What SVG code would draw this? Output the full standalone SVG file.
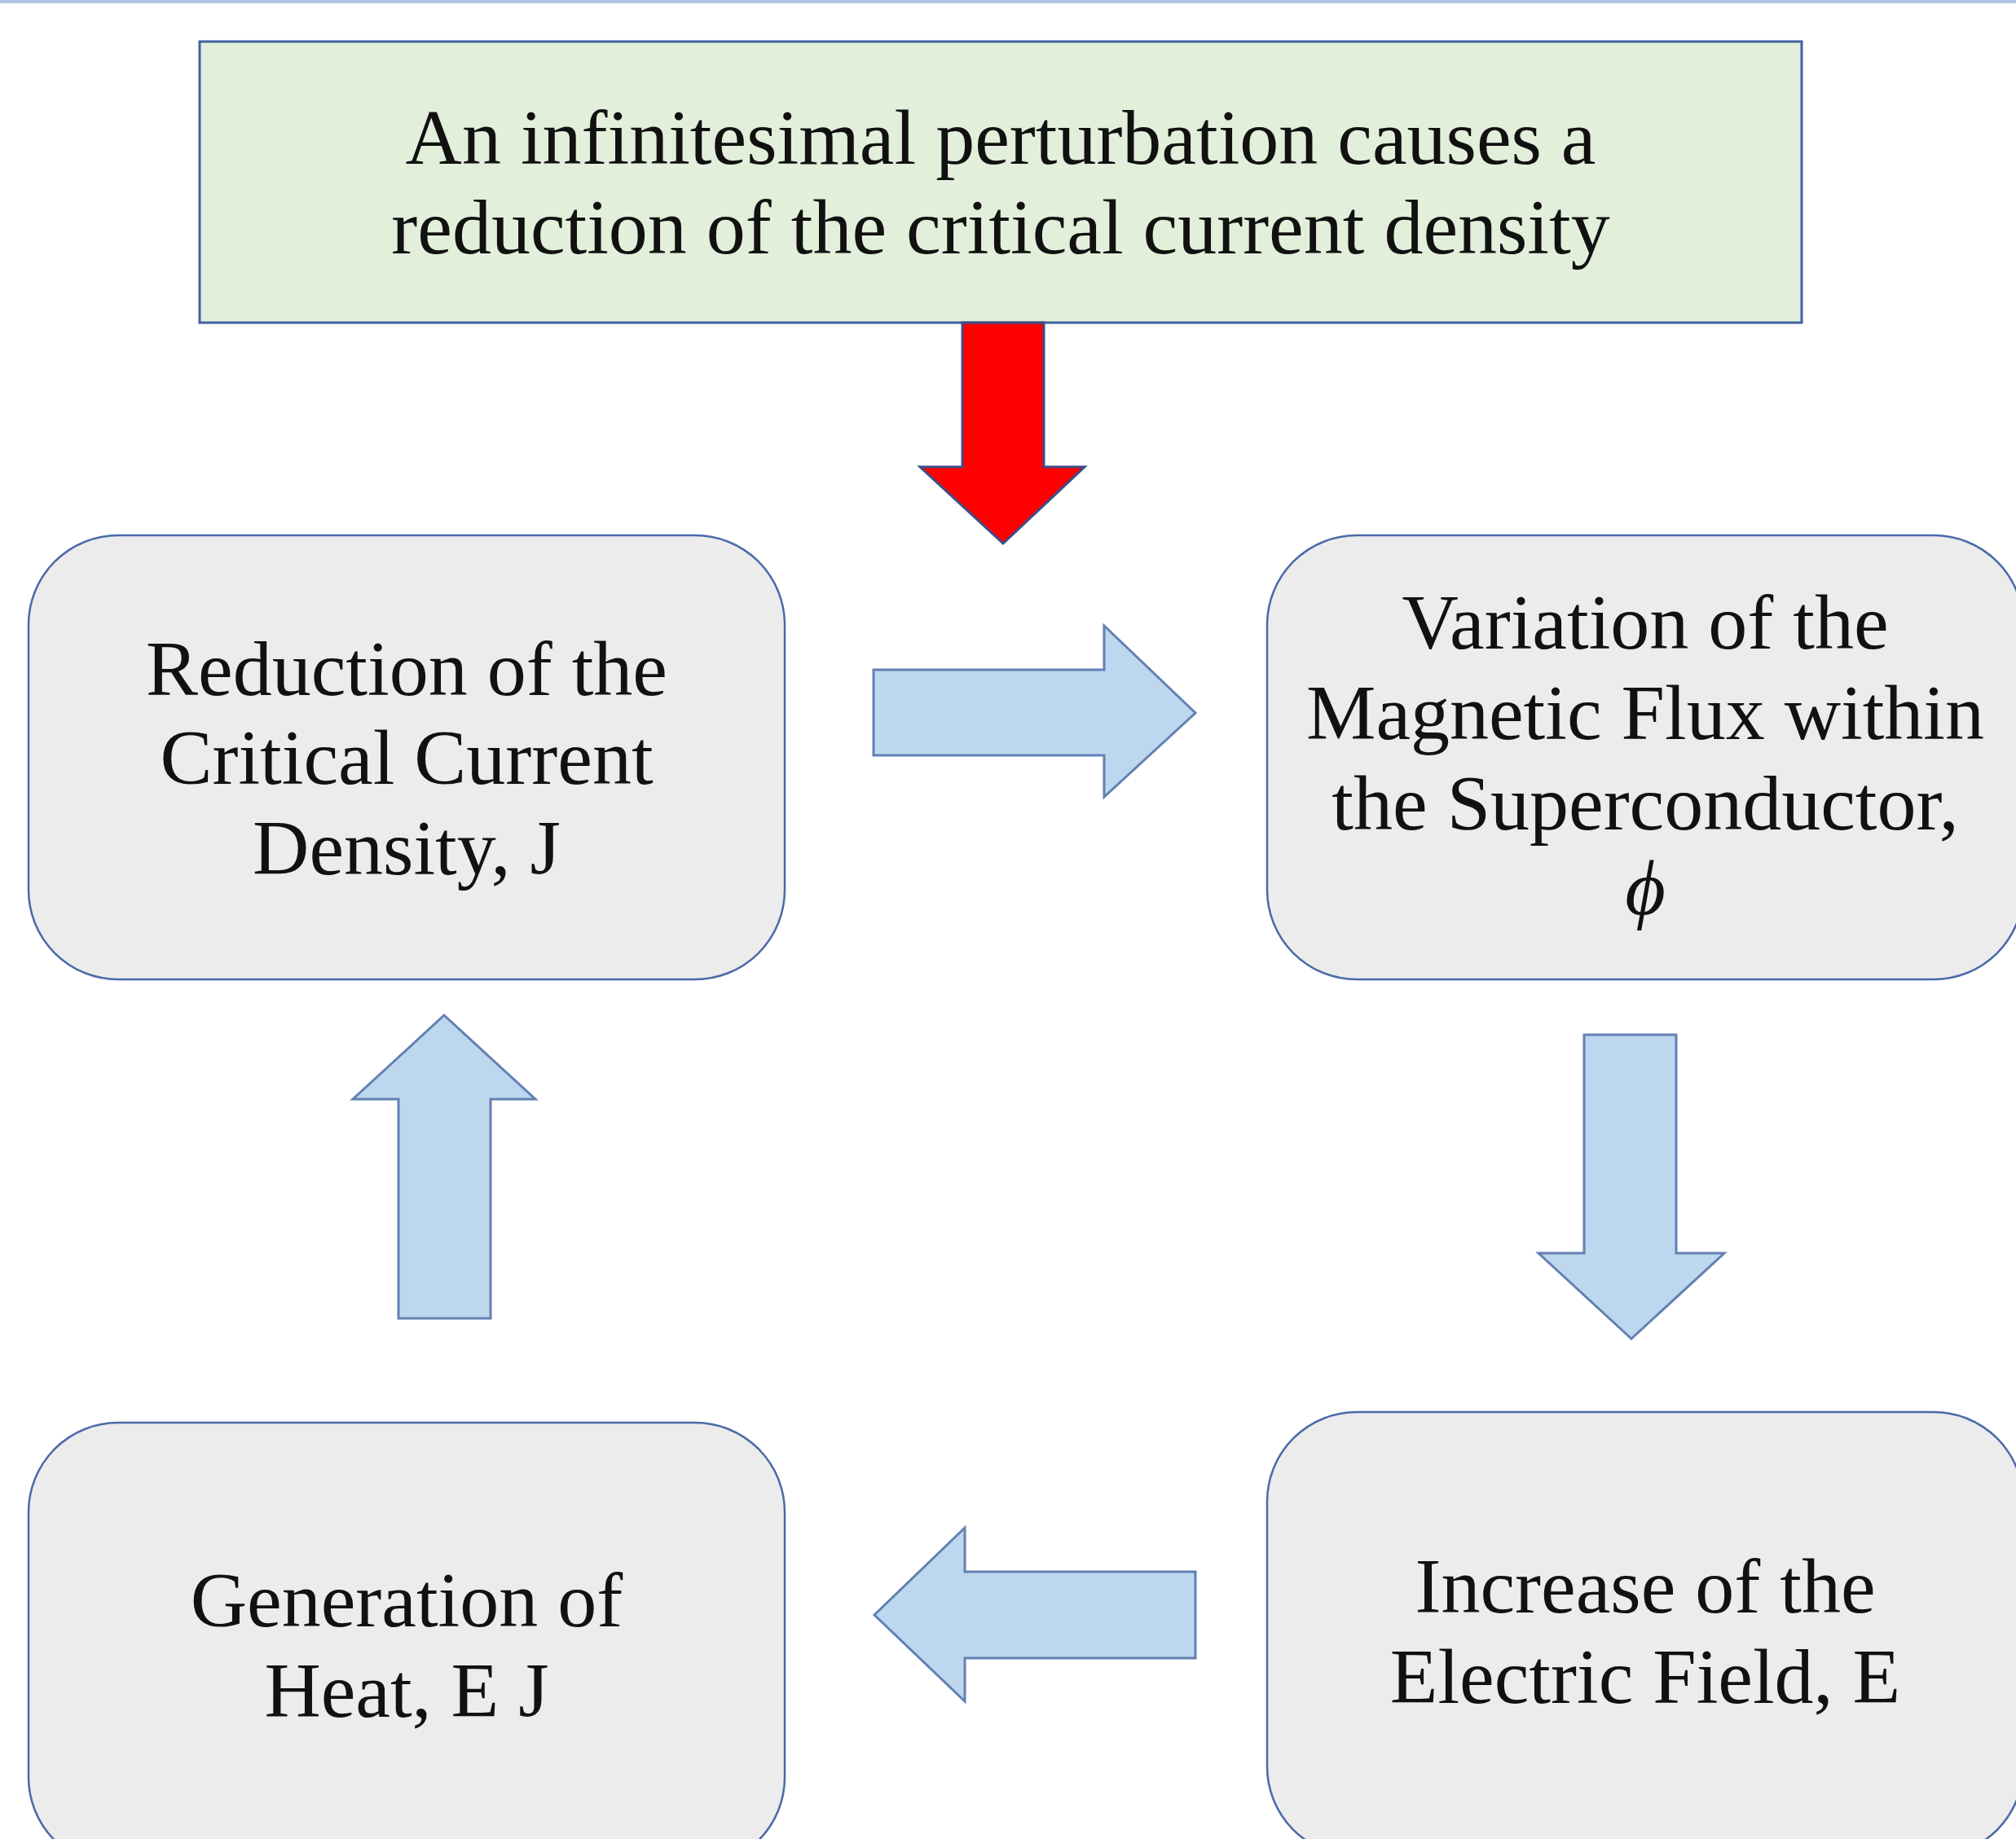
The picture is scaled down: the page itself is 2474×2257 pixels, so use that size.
<svg xmlns="http://www.w3.org/2000/svg" width="2474" height="2257" viewBox="0 0 2474 2257">
<style>
.node{fill:#ececec;stroke:#4a6aa8;stroke-width:2.5}
.top{fill:#e2efda;stroke:#3f62a0;stroke-width:3}
.lbl{font-family:"Liberation Serif","Times New Roman",serif;font-size:96px;fill:#111;text-anchor:middle}
.arr{fill:#bdd7ee;stroke:#6380b3;stroke-width:3;stroke-linejoin:miter}
.red{fill:#ff0000;stroke:#3a4f8a;stroke-width:3}
</style>
<rect x="0" y="0" width="2474" height="2257" fill="#ffffff"/>
<rect x="0" y="0" width="2474" height="4" fill="#aec4e4"/>
<g id="node-perturbation">
<rect class="top" x="245" y="51" width="1966" height="345"/>
<text class="lbl" x="1228" y="201">An infinitesimal perturbation causes a</text>
<text class="lbl" x="1228" y="311">reduction of the critical current density</text>
</g>
<g id="node-reduction">
<rect class="node" x="35" y="657" width="928" height="545" rx="110" ry="110"/>
<text class="lbl" x="499" y="853">Reduction of the</text>
<text class="lbl" x="499" y="962">Critical Current</text>
<text class="lbl" x="499" y="1073">Density, J</text>
</g>
<g id="node-variation">
<rect class="node" x="1555" y="657" width="928" height="545" rx="110" ry="110"/>
<text class="lbl" x="2019" y="796">Variation of the</text>
<text class="lbl" x="2019" y="907">Magnetic Flux within</text>
<text class="lbl" x="2019" y="1018">the Superconductor,</text>
<text class="lbl" x="2019" y="1122" font-style="italic">ϕ</text>
</g>
<g id="node-increase">
<rect class="node" x="1555" y="1733" width="928" height="545" rx="110" ry="110"/>
<text class="lbl" x="2019" y="1979">Increase of the</text>
<text class="lbl" x="2019" y="2090">Electric Field, E</text>
</g>
<g id="node-generation">
<rect class="node" x="35" y="1746" width="928" height="545" rx="110" ry="110"/>
<text class="lbl" x="499" y="1996">Generation of</text>
<text class="lbl" x="499" y="2107">Heat, E J</text>
</g>
<g id="connectors">
<polygon class="red" points="1181,396 1281,396 1281,573 1331,573 1231,667 1129,573 1181,573"/>
<polygon class="arr" points="1072,822 1355,822 1355,768 1467,875 1355,978 1355,927 1072,927"/>
<polygon class="arr" points="1944,1270 2057,1270 2057,1538 2116,1538 2002,1643 1888,1538 1944,1538"/>
<polygon class="arr" points="1467,1929 1184,1929 1184,1875 1073,1982 1184,2088 1184,2035 1467,2035"/>
<polygon class="arr" points="489,1618 602,1618 602,1349 657,1349 545,1246 433,1349 489,1349"/>
</g>
</svg>
